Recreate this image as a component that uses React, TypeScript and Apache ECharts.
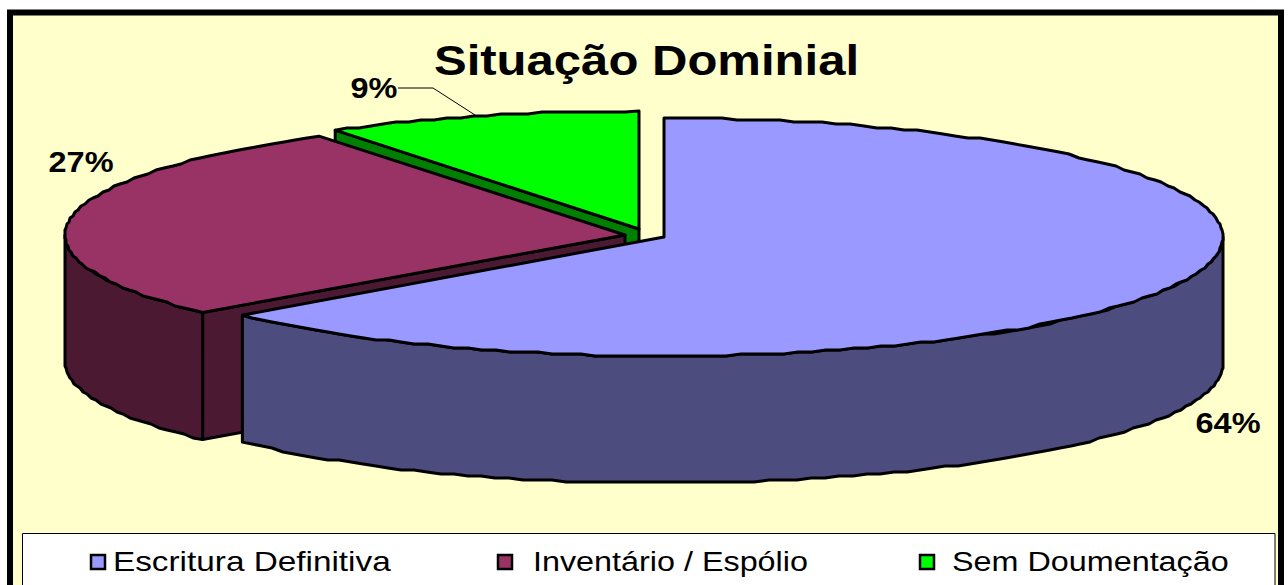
import React, { useEffect, useRef } from "react";
import * as echarts from "echarts";

const titleText = "Situação Dominial";
const categories = ["Escritura Definitiva", "Inventário / Espólio", "Sem Doumentação"];
const values = [63.6, 27.2, 9.2];
const topColors = ["#9999FF", "#993366", "#00FF00"];
const wallColors = ["#4C4C7F", "#4C1933", "#4C4C7F"];
const cutColors = ["#4C4C7F", "#4C1933", "#008000"];

// exploded slice geometry: centre, radii
const discs = [
  { cx: 664, cy: 237, rx: 559, ry: 119 },
  { cx: 625, cy: 235, rx: 560, ry: 118 },
  { cx: 639, cy: 229, rx: 556, ry: 118 },
];
const DEPTH = 127;
const labelPos = [
  [1228, 423],
  [81, 162],
  [374, 88],
];
const legendMarkX = [91, 498, 920];
const legendTextX = [113, 533, 952];
const legendStretch = [1.19, 1.155, 1.155];
const LINE = 3;
const font = "'Liberation Sans', Arial, sans-serif";

const total = values.reduce((a, b) => a + b, 0);

function pt(d: any, deg: number, dy = 0) {
  const r = (deg * Math.PI) / 180;
  return [d.cx + d.rx * Math.sin(r), d.cy - d.ry * Math.cos(r) + dy];
}
// Outline snapped to a small grid: the source is a low-resolution raster
// whose curved edges have a slightly stepped look.
function arc(d: any, a0: number, a1: number, dy = 0) {
  const n = Math.max(2, Math.ceil(Math.abs(a1 - a0) / 1.5));
  const out: number[][] = [];
  for (let i = 0; i <= n; i++) {
    const p = pt(d, a0 + ((a1 - a0) * i) / n, dy);
    if (i === 0 || i === n) out.push(p);
    else out.push([Math.round(p[0]), Math.round(p[1] / 2) * 2]);
  }
  return out;
}

function renderSlice(idx: number) {
  return (_params: any, api: any) => {
    const d = discs[idx];
    let start = 0;
    for (let i = 0; i < idx; i++) start += (values[i] / total) * 360;
    const end = start + (api.value(0) / total) * 360;
    const stroke = { stroke: "#000", lineWidth: LINE, lineJoin: "round" };
    const children: any[] = [];
    const apex = [d.cx, d.cy];

    // side faces (cut edges) that look towards the viewer
    const cutAt = (deg: number) => {
      const o = pt(d, deg);
      children.push({
        type: "polygon",
        shape: { points: [apex, o, [o[0], o[1] + DEPTH], [apex[0], apex[1] + DEPTH]] },
        style: { fill: cutColors[idx], ...stroke },
      });
    };
    if (idx > 0) cutAt(start);
    // outer wall: only the near half of the disc (90..270 deg) shows
    const w0 = Math.max(start, 90);
    const w1 = Math.min(end, 270);
    if (w1 > w0) {
      const upper = arc(d, w0, w1);
      const lower = arc(d, w1, w0, DEPTH);
      children.push({
        type: "polygon",
        shape: { points: [...upper, ...lower] },
        style: { fill: wallColors[idx], ...stroke },
      });
    }
    // top face
    children.push({
      type: "polygon",
      shape: { points: [apex, ...arc(d, start, end)] },
      style: { fill: topColors[idx], ...stroke },
    });
    // percentage label
    const [lx, ly] = labelPos[idx];
    children.push({
      type: "text",
      x: lx,
      y: ly,
      scaleX: 1.12,
      style: {
        text: `${Math.round(api.value(0))}%`,
        fontFamily: font,
        fontWeight: "bold",
        fontSize: 29,
        fill: "#000",
        textAlign: "center",
        textVerticalAlign: "middle",
      },
    });
    if (idx === 2) {
      children.push({
        type: "polyline",
        shape: { points: [[398, 88], [433, 88], [475, 115]] },
        style: { stroke: "#000", lineWidth: 1, fill: "none" },
      });
    }
    return { type: "group", children };
  };
}

export default function App() {
  const ref = useRef<HTMLDivElement>(null);
  useEffect(() => {
    const chart = echarts.init(ref.current!, undefined, { renderer: "svg" });
    chart.setOption({
      animation: false,
      backgroundColor: "#FFFFFF",
      series: categories.map((name, i) => ({
        type: "custom",
        name,
        coordinateSystem: "none",
        z: 3 - i,
        silent: true,
        renderItem: renderSlice(i),
        data: [[values[i]]],
        itemStyle: { color: topColors[i] },
      })),
      graphic: [
        {
          type: "rect",
          z: -10,
          shape: { x: 10, y: 12.5, width: 1271, height: 600 },
          style: { fill: "#FFFFCC", stroke: "#000", lineWidth: 6 },
        },
        {
          type: "rect",
          z: -9,
          shape: { x: 22.5, y: 533.5, width: 1252.5, height: 70 },
          style: { fill: "#FFFFFF", stroke: "#000", lineWidth: 1 },
        },
        {
          type: "text",
          x: 646.5,
          y: 61,
          scaleX: 1.168,
          style: {
            text: titleText,
            fontFamily: font,
            fontWeight: "bold",
            fontSize: 42,
            fill: "#000",
            textAlign: "center",
            textVerticalAlign: "middle",
          },
        },
        ...categories.flatMap((name, i) => [
          {
            type: "rect",
            shape: { x: legendMarkX[i], y: 555, width: 14, height: 14 },
            style: { fill: topColors[i], stroke: "#000", lineWidth: 2.5 },
          },
          {
            type: "text",
            x: legendTextX[i],
            y: 561,
            scaleX: legendStretch[i],
            style: {
              text: name,
              fontFamily: font,
              fontSize: 28,
              fill: "#000",
              textAlign: "left",
              textVerticalAlign: "middle",
            },
          },
        ]),
      ],
    });
    return () => chart.dispose();
  }, []);
  return <div ref={ref} style={{ position: "fixed", left: 0, top: 0, width: 1288, height: 585 }} />;
}
